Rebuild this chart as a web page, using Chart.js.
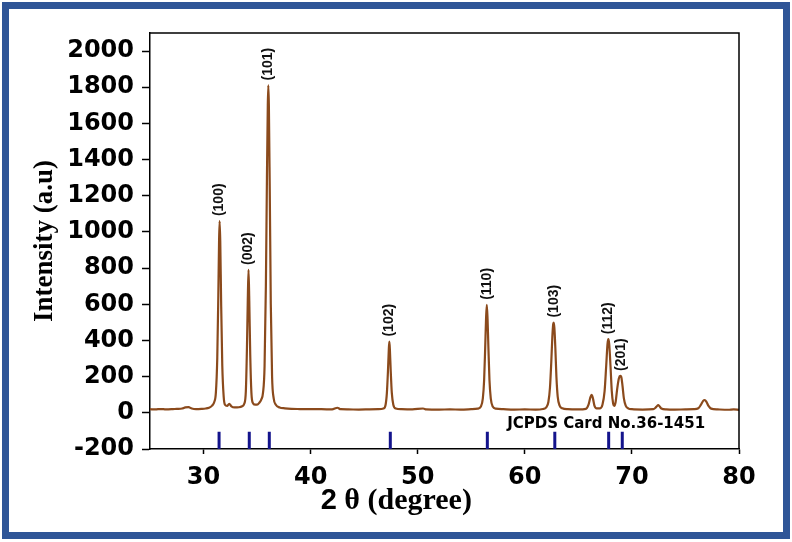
<!DOCTYPE html>
<html>
<head>
<meta charset="utf-8">
<script src="https://cdn.jsdelivr.net/npm/chart.js@4.4.0/dist/chart.umd.min.js"></script>
<style>
  html,body{margin:0;padding:0;background:#fff;}
  #wrap{position:relative;width:792px;height:542px;}
  #frame{position:absolute;left:2px;top:2px;width:788px;height:537px;box-sizing:border-box;border:7px solid #2F5597;pointer-events:none;}
  canvas{position:absolute;left:0;top:0;}
</style>
</head>
<body>
<div id="wrap">
  <canvas id="chart" width="792" height="542"></canvas>
  <div id="frame"></div>
</div>
<script>
// XRD pattern
const twoTheta=[25.0,25.5,26.0,26.5,27.0,27.5,28.0,28.3,28.6,28.9,29.3,29.8,30.2,30.5,30.8,31.0,31.15,31.28,31.38,31.45,31.5,31.56,31.64,31.75,31.88,32.0,32.2,32.4,32.6,32.9,33.3,33.6,33.8,33.95,34.05,34.13,34.2,34.27,34.36,34.47,34.6,34.8,35.0,35.2,35.4,35.55,35.7,35.82,35.92,36.0,36.05,36.1,36.18,36.28,36.4,36.55,36.75,37.1,37.6,38.2,39.0,40.0,41.0,42.0,42.5,42.8,43.5,44.5,45.5,46.3,46.8,47.0,47.12,47.22,47.3,47.35,47.4,47.48,47.58,47.72,47.95,48.5,49.5,50.5,50.8,52.0,53.0,54.0,55.0,55.6,55.9,56.08,56.2,56.3,56.38,56.45,56.52,56.6,56.7,56.82,57.0,57.3,58.0,59.0,60.0,61.0,61.7,62.0,62.2,62.35,62.47,62.57,62.65,62.7,62.76,62.85,62.95,63.07,63.25,63.5,64.0,65.0,65.7,65.95,66.12,66.24,66.36,66.5,66.7,67.0,67.25,67.45,67.6,67.72,67.8,67.88,68.0,68.12,68.25,68.35,68.48,68.62,68.78,68.9,69.0,69.12,69.25,69.42,69.65,70.0,71.0,72.0,72.2,72.35,72.45,72.58,72.75,73.2,74.0,75.0,75.8,76.2,76.45,76.65,76.8,76.95,77.15,77.4,78.0,79.0,79.5,80.0];
const intensity=[20,19,21,19,20,22,24,30,31,24,21,22,24,28,40,60,110,300,650,950,1060,950,620,260,90,45,38,50,36,30,31,36,50,120,350,620,790,620,320,110,55,45,45,55,75,110,260,700,1300,1700,1810,1700,1250,600,200,80,45,30,25,22,21,20,20,19,28,20,19,18,19,20,24,45,110,230,350,394,350,230,110,45,24,20,19,24,19,18,19,18,20,23,35,80,180,360,520,597,520,360,180,80,35,23,20,18,19,18,21,30,60,140,280,420,490,499,470,360,200,90,40,25,20,19,22,45,85,99,80,40,25,25,45,120,260,380,407,380,260,120,50,38,60,130,190,204,200,150,80,40,25,20,18,20,28,38,43,36,24,19,18,19,20,25,45,66,71,62,38,23,19,17,19,16];

// peak indices
const hklLabels=['(100)','(002)','(101)','(102)','(110)','(103)','(112)','(201)'];
const hklX=[31.5,34.2,36.05,47.35,56.45,62.7,67.8,68.95];
const hklY=[1060,790,1810,394,597,499,407,204];

// JCPDS 36-1451 reference lines
const jcpdsPos=[31.45,34.27,36.14,47.44,56.5,62.8,67.83,69.1];
const jcpdsTop=-105;
const cardText='JCPDS Card No.36-1451';

const xTicks=[30,40,50,60,70,80];
const yTicks=[-200,0,200,400,600,800,1000,1200,1400,1600,1800,2000];

const sans='"Liberation Sans", Arial, sans-serif';
const wide='"DejaVu Sans", sans-serif';
const serif='"Liberation Serif", "Times New Roman", serif';

const sticks=[];
jcpdsPos.forEach(p=>{
  sticks.push({x:p,y:-200},{x:p,y:jcpdsTop},{x:p,y:null});
});

const overlay={
  id:'overlay',
  afterDraw(chart){
    const {ctx,chartArea:a,scales:{x,y}}=chart;
    ctx.save();
    // top and right frame
    ctx.strokeStyle='#000';ctx.lineWidth=1.5;
    ctx.beginPath();ctx.moveTo(a.left,a.top);ctx.lineTo(a.right,a.top);ctx.lineTo(a.right,a.bottom);ctx.stroke();
    // hkl labels
    ctx.fillStyle='#111';ctx.font='bold 14px '+sans;ctx.textAlign='left';ctx.textBaseline='middle';
    hklLabels.forEach((t,i)=>{
      ctx.save();
      ctx.translate(x.getPixelForValue(hklX[i]),y.getPixelForValue(hklY[i])-5);
      ctx.rotate(-Math.PI/2);
      ctx.fillText(t,0,0);
      ctx.restore();
    });
    // card text
    ctx.font='bold 15px '+wide;ctx.fillStyle='#000';
    ctx.fillText(cardText,x.getPixelForValue(58.35),y.getPixelForValue(-63));
    // x title, mixed fonts
    const f1='bold 29px '+sans, f2='bold 30px '+serif;
    const t1='2', t2=' \u03B8 (degree)';
    ctx.font=f1;const w1=ctx.measureText(t1).width;
    ctx.font=f2;const w2=ctx.measureText(t2).width;
    const x0=x.getPixelForValue(48)-(w1+w2)/2, by=a.bottom+60;
    ctx.textBaseline='alphabetic';
    ctx.font=f1;ctx.fillText(t1,x0,by);
    ctx.font=f2;ctx.fillText(t2,x0+w1,by);
    ctx.restore();
  }
};

new Chart(document.getElementById('chart'),{
  type:'line',
  data:{datasets:[
    {data:twoTheta.map((v,i)=>({x:v,y:intensity[i]})),borderColor:'#8B4A1C',borderWidth:2.2,pointRadius:0,cubicInterpolationMode:'monotone'},
    {data:sticks,borderColor:'#14148C',borderWidth:3,pointRadius:0,spanGaps:false}
  ]},
  options:{
    responsive:false,animation:false,
    layout:{padding:{left:0,top:33,right:53,bottom:0}},
    plugins:{legend:{display:false},tooltip:{enabled:false}},
    scales:{
      x:{type:'linear',min:25,max:80,
        afterBuildTicks:s=>{s.ticks=xTicks.map(v=>({value:v}));},
        afterFit:s=>{s.height=93;},
        grid:{display:true,drawOnChartArea:false,tickLength:5,tickColor:'#000',tickWidth:1.5},
        border:{color:'#000',width:1.5},
        ticks:{color:'#000',padding:9,maxRotation:0,callback:v=>String(v),font:{family:wide,size:24,weight:'bold'}}
      },
      y:{min:-200,max:2100,
        afterBuildTicks:s=>{s.ticks=yTicks.map(v=>({value:v}));},
        afterFit:s=>{s.width=150;},
        grid:{display:true,drawOnChartArea:false,tickLength:8,tickColor:'#000',tickWidth:1.5},
        border:{color:'#000',width:1.5},
        ticks:{color:'#000',padding:8,callback:v=>String(v),font:{family:wide,size:24,weight:'bold'}},
        title:{display:true,text:'Intensity (a.u)',color:'#000',padding:{top:29,bottom:0},font:{family:serif,size:27,weight:'bold'}}
      }
    }
  },
  plugins:[overlay]
});
</script>
</body>
</html>
